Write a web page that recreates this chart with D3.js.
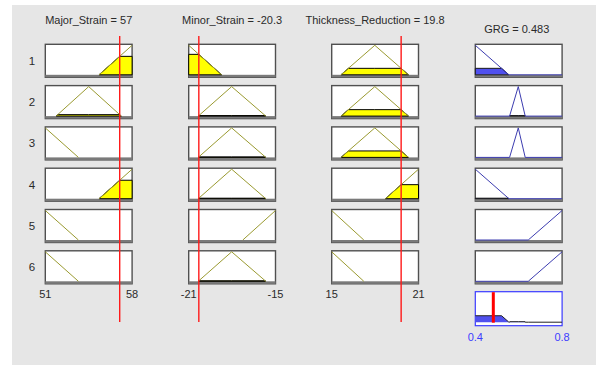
<!DOCTYPE html>
<html>
<head>
<meta charset="utf-8">
<script src="https://cdn.jsdelivr.net/npm/d3@7"></script>
<style>
  html, body { margin: 0; padding: 0; background: #ffffff; }
  svg { display: block; font-family: "Liberation Sans", Arial, sans-serif; }
</style>
</head>
<body>
<svg id="chart" width="596" height="365"></svg>
<script>
// ---- Input variables ----
const inputNames = ["Major_Strain", "Minor_Strain", "Thickness_Reduction"];
const inputValues = [57, -20.3, 19.8];
const inputRanges = [[51, 58], [-21, -15], [15, 21]];
const inputTickLabels = [["51", "58"], ["-21", "-15"], ["15", "21"]];

// Triangular membership functions [a, b, c]: low, medium, high
const majorStrainMFs = [[48.33, 51, 53.67], [51.87, 54.5, 57.13], [55.33, 58, 60.67]];
const minorStrainMFs = [[-23.28, -21, -18.72], [-20.34, -18.03, -15.67], [-17.26, -15, -12.74]];
const thicknessMFs = [[12.78, 15, 17.22], [15.64, 17.98, 20.31], [18.71, 21, 23.29]];

// ---- Output variable ----
const outputName = "GRG";
const outputValue = 0.483;
const outputRange = [0.4, 0.8];
const outputTickLabels = ["0.4", "0.8"];
const grgMFs = [[0.245, 0.4, 0.555], [0.558, 0.598, 0.63], [0.644, 0.8, 0.956]];

// ---- Rule base: MF index for each input, and the output MF index ----
const ruleLabels = ["1", "2", "3", "4", "5", "6"];
const ruleAntecedents = [[2, 0, 1], [1, 1, 1], [0, 1, 1], [2, 1, 2], [0, 2, 0], [0, 1, 0]];
const ruleConsequents = [0, 1, 1, 0, 2, 2];

const inputMFs = [majorStrainMFs, minorStrainMFs, thicknessMFs];

// ---- Layout ----
const colLeft = [45.3, 188.7, 331.7, 475.3];
const colWidth = 86.8;
const rowTop0 = 44.3;
const rowStep = 41.3;
const boxH = 33;
const aggTop = 291.7, aggH = 34;

const olive = "#9a9a30";
const blueLine = "#3c3cb0";
const blueFill = "#5050ee";
const textColor = "#2a2a2a";

function trimf(x, p) {
  const [a, b, c] = p;
  const left = b === a ? (x >= b ? 1 : 0) : (x - a) / (b - a);
  const right = c === b ? (x <= b ? 1 : 0) : (c - x) / (c - b);
  return Math.max(0, Math.min(left, right));
}

// Breakpoints of min(trimf, cap) inside [lo, hi]
function breakpoints(p, lo, hi, cap) {
  const [a, b, c] = p;
  let xs = [lo, hi, a, b, c];
  if (cap !== undefined) xs.push(a + cap * (b - a), c - cap * (c - b));
  xs = xs.filter(x => x >= lo && x <= hi);
  return Array.from(new Set(xs.map(x => +x.toFixed(6)))).sort((m, n) => m - n);
}

// Rule firing strengths (AND = min)
const firing = ruleAntecedents.map(ante =>
  d3.min(ante.map((mfIdx, i) => trimf(inputValues[i], inputMFs[i][mfIdx]))));

const svg = d3.select("#chart");

// Panel background
svg.append("rect").attr("x", 12).attr("y", 5).attr("width", 584).attr("height", 360)
  .attr("fill", "#e6e6e6");

function cellScales(col, top, h, domain) {
  const x = d3.scaleLinear().domain(domain).range([colLeft[col], colLeft[col] + colWidth]);
  const y = d3.scaleLinear().domain([0, 1]).range([top + h - 2.5, top + 1]);
  return { x, y };
}

function drawBox(top, col) {
  svg.append("rect")
    .attr("x", colLeft[col]).attr("y", top).attr("width", colWidth).attr("height", boxH)
    .attr("fill", "#ffffff").attr("stroke", "#505050").attr("stroke-width", 1.4);
  svg.append("rect")
    .attr("x", colLeft[col]).attr("y", top + boxH - 2.5).attr("width", colWidth).attr("height", 2.5)
    .attr("fill", "#7a7a7a");
}

const lineGen = (sx, sy) => d3.line().x(d => sx(d[0])).y(d => sy(d[1]));

// Input columns
ruleAntecedents.forEach((ante, r) => {
  const top = rowTop0 + r * rowStep;

  ante.forEach((mfIdx, i) => {
    const p = inputMFs[i][mfIdx];
    const [lo, hi] = inputRanges[i];
    const { x, y } = cellScales(i, top, boxH, inputRanges[i]);
    drawBox(top, i);

    // Membership degree of the current input value
    const mu = trimf(inputValues[i], p);
    const sLo = Math.max(lo, p[0]), sHi = Math.min(hi, p[2]);
    if (mu > 0) {
      const pts = breakpoints(p, sLo, sHi, mu).map(v => [v, Math.min(trimf(v, p), mu)]);
      const poly = [[pts[0][0], 0], ...pts, [pts[pts.length - 1][0], 0]];
      svg.append("path")
        .attr("d", lineGen(x, y)(poly) + "Z")
        .attr("fill", "#ffff00").attr("stroke", "#000000").attr("stroke-width", 1)
        .attr("stroke-linejoin", "round");
    }
    const mfPts = breakpoints(p, sLo, sHi).map(v => [v, trimf(v, p)]);
    svg.append("path")
      .attr("d", lineGen(x, y)(mfPts))
      .attr("fill", "none").attr("stroke", olive).attr("stroke-width", 1);
  });

  // Output column
  const op = grgMFs[ruleConsequents[r]];
  const { x, y } = cellScales(3, top, boxH, outputRange);
  drawBox(top, 3);
  const w = firing[r];
  if (w > 0) {
    const sLo = Math.max(outputRange[0], op[0]), sHi = Math.min(outputRange[1], op[2]);
    const pts = breakpoints(op, sLo, sHi, w).map(v => [v, Math.min(trimf(v, op), w)]);
    const poly = [[pts[0][0], 0], ...pts, [pts[pts.length - 1][0], 0]];
    svg.append("path")
      .attr("d", lineGen(x, y)(poly) + "Z")
      .attr("fill", blueFill).attr("stroke", "#1a1a1a").attr("stroke-width", 1)
      .attr("stroke-linejoin", "round");
  }
  const mfPts = breakpoints(op, outputRange[0], outputRange[1]).map(v => [v, trimf(v, op)]);
  svg.append("path")
    .attr("d", lineGen(x, y)(mfPts))
    .attr("fill", "none").attr("stroke", blueLine).attr("stroke-width", 1);

  // Rule number
  svg.append("text")
    .attr("x", 32).attr("y", top + boxH / 2 + 4)
    .attr("text-anchor", "middle").attr("font-size", 11.5).attr("fill", textColor)
    .text(ruleLabels[r]);
});

// Aggregated output
{
  const x = d3.scaleLinear().domain(outputRange).range([colLeft[3], colLeft[3] + colWidth]);
  const y = d3.scaleLinear().domain([0, 1]).range([aggTop + aggH - 3.5, aggTop + 1]);
  svg.append("rect")
    .attr("x", colLeft[3]).attr("y", aggTop).attr("width", colWidth).attr("height", aggH)
    .attr("fill", "#ffffff").attr("stroke", "#3a3aff").attr("stroke-width", 1.2);

  let xs = [outputRange[0], outputRange[1]];
  grgMFs.forEach((p, k) => {
    ruleConsequents.forEach((c, r) => {
      if (c === k) xs = xs.concat(breakpoints(p, outputRange[0], outputRange[1], firing[r]));
    });
  });
  xs = Array.from(new Set(xs)).sort((m, n) => m - n);
  const agg = xs.map(v => [v, d3.max(ruleConsequents.map((c, r) =>
    Math.min(trimf(v, grgMFs[c]), firing[r])))]);

  const area = d3.area().x(d => x(d[0])).y0(y(0)).y1(d => y(d[1]));
  svg.append("path").attr("d", area(agg)).attr("fill", blueFill);
  svg.append("path").attr("d", lineGen(x, y)(agg))
    .attr("fill", "none").attr("stroke", "#222").attr("stroke-width", 1);

  svg.append("line")
    .attr("x1", x(outputValue)).attr("x2", x(outputValue))
    .attr("y1", aggTop + 0.5).attr("y2", y(0) + 0.5)
    .attr("stroke", "#ff0000").attr("stroke-width", 3);

  outputTickLabels.forEach((t, k) => {
    svg.append("text")
      .attr("x", x(outputRange[k])).attr("y", 341)
      .attr("text-anchor", "middle").attr("font-size", 11).attr("fill", "#3c3cff")
      .text(t);
  });

  svg.append("text")
    .attr("x", colLeft[3] + colWidth / 2 - 2).attr("y", 33)
    .attr("text-anchor", "middle").attr("font-size", 11).attr("fill", textColor)
    .text(`${outputName} = ${outputValue}`);
}

// Input titles, tick labels and current-value lines
inputNames.forEach((name, i) => {
  const x = d3.scaleLinear().domain(inputRanges[i]).range([colLeft[i], colLeft[i] + colWidth]);
  svg.append("text")
    .attr("x", colLeft[i] + colWidth / 2).attr("y", 24)
    .attr("text-anchor", "middle").attr("font-size", 11).attr("fill", textColor)
    .text(`${name} = ${inputValues[i]}`);
  inputTickLabels[i].forEach((t, k) => {
    svg.append("text")
      .attr("x", x(inputRanges[i][k])).attr("y", 298)
      .attr("text-anchor", "middle").attr("font-size", 11).attr("fill", textColor)
      .text(t);
  });
  const vx = x(inputValues[i]);
  svg.append("line")
    .attr("x1", vx).attr("x2", vx).attr("y1", 36).attr("y2", 322)
    .attr("stroke", "#ff1a1a").attr("stroke-width", 1.4);
});
</script>
</body>
</html>
